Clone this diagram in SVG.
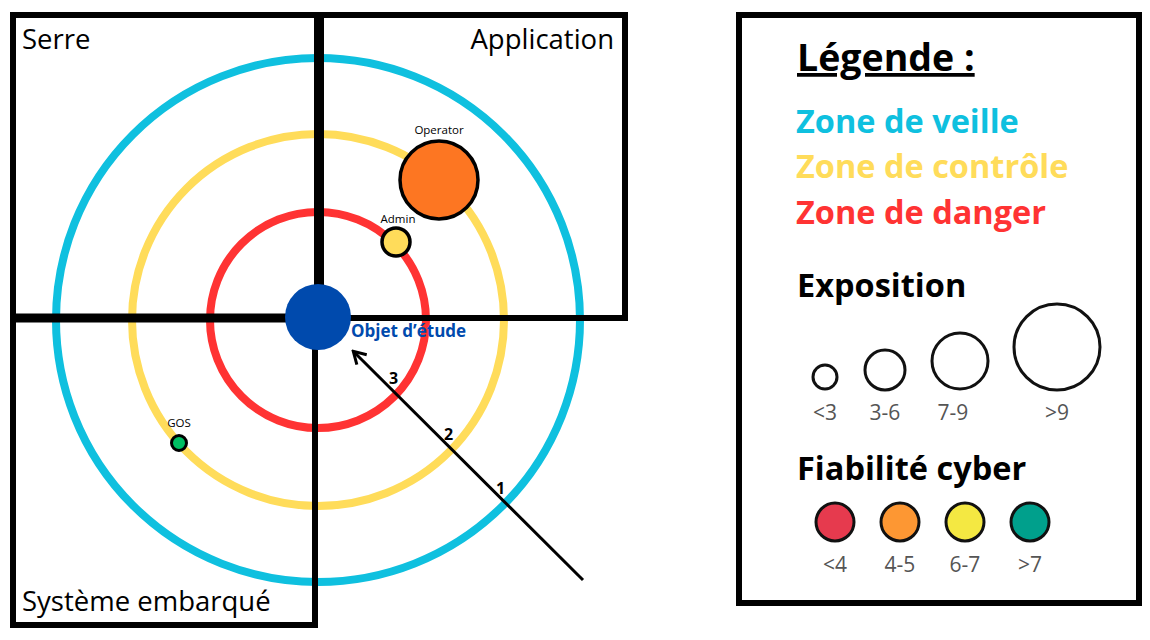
<svg xmlns="http://www.w3.org/2000/svg" width="1150" height="640" viewBox="0 0 1150 640">
<style>
text{font-family:"Open Sans","Noto Sans",sans-serif}
.ring{fill:none;stroke-width:8}
.box{fill:none;stroke:#000;stroke-width:6}
.zt{font-size:27.5px}
.lt{font-size:32.5px;font-weight:bold}
.ht{font-size:37.5px;font-weight:bold}
.sm{font-size:21px;fill:#555;text-anchor:middle}
.lc{fill:none;stroke:#111;stroke-width:3}
.fc{stroke:#111;stroke-width:3}
.nl{font-size:11.5px;text-anchor:middle}
.num{font-size:16px;font-weight:bold}
</style>
<defs><marker id="ah" markerWidth="16" markerHeight="16" refX="13" refY="8" orient="auto" markerUnits="userSpaceOnUse" viewBox="0 0 16 16"><path d="M2,1 L14,8 L2,15" fill="none" stroke="#000" stroke-width="3"/></marker></defs>
<rect width="1150" height="640" fill="#fff"/>
<g id="zones">
<circle class="ring" cx="318" cy="320" r="262" stroke="#0fc0df"/>
<circle class="ring" cx="318" cy="320" r="186" stroke="#ffdc5a"/>
<circle class="ring" cx="318" cy="320" r="108" stroke="#ff3333"/>
</g>
<g id="quadrants">
<rect class="box" x="13" y="15" width="304" height="303"/>
<rect class="box" x="321" y="15" width="304" height="303"/>
<rect class="box" x="13" y="318" width="302" height="307"/>
<line x1="12" y1="318" x2="318" y2="318" stroke="#000" stroke-width="9"/>
<text x="22" y="49" class="zt">Serre</text>
<text x="614" y="49" class="zt" text-anchor="end">Application</text>
<text x="22" y="611" class="zt">Système embarqué</text>
</g>
<g id="connectors">
<line x1="583" y1="580" x2="354" y2="352" stroke="#000" stroke-width="3" marker-end="url(#ah)"/>
<text x="389" y="384" class="num">3</text>
<text x="444" y="440" class="num">2</text>
<text x="496" y="494" class="num">1</text>
</g>
<g id="objet">
<circle cx="318" cy="317" r="33" fill="#004aad"/>
<text x="351" y="337" font-size="17" font-weight="bold" fill="#004aad">Objet d’étude</text>
</g>
<g id="operator"><circle cx="439" cy="180" r="39" fill="#fd7622" stroke="#000" stroke-width="3.5"/><text x="439" y="134" class="nl">Operator</text></g>
<g id="admin"><circle cx="396" cy="242" r="14" fill="#ffdc5a" stroke="#000" stroke-width="3.5"/><text x="398" y="223" class="nl">Admin</text></g>
<g id="gos"><circle cx="179" cy="443" r="7.5" fill="#00bf63" stroke="#000" stroke-width="3"/><text x="179" y="427" class="nl">GOS</text></g>
<g id="legend">
<rect x="739" y="15" width="400" height="588" fill="none" stroke="#000" stroke-width="6"/>
<text x="797" y="71" class="ht" text-decoration="underline">Légende :</text>
<text x="796" y="133" class="lt" fill="#0fc0df">Zone de veille</text>
<text x="796" y="178" class="lt" fill="#ffdc5a">Zone de contrôle</text>
<text x="796" y="224" class="lt" fill="#ff3333">Zone de danger</text>
<text x="797" y="297" class="lt" fill="#000">Exposition</text>
<circle class="lc" cx="825" cy="377" r="12"/>
<circle class="lc" cx="885" cy="370" r="20"/>
<circle class="lc" cx="960" cy="361" r="28"/>
<circle class="lc" cx="1057" cy="347" r="43"/>
<text x="825" y="420" class="sm">&lt;3</text>
<text x="885" y="420" class="sm">3-6</text>
<text x="953" y="420" class="sm">7-9</text>
<text x="1057" y="420" class="sm">&gt;9</text>
<text x="797" y="480" class="lt" fill="#000">Fiabilité cyber</text>
<circle class="fc" cx="835" cy="522" r="19" fill="#e63a4e"/>
<circle class="fc" cx="900" cy="522" r="19" fill="#fd9733"/>
<circle class="fc" cx="965" cy="522" r="19" fill="#f4e842"/>
<circle class="fc" cx="1030" cy="522" r="19" fill="#00a08c"/>
<text x="835" y="572" class="sm">&lt;4</text>
<text x="900" y="572" class="sm">4-5</text>
<text x="965" y="572" class="sm">6-7</text>
<text x="1030" y="572" class="sm">&gt;7</text>
</g>
</svg>
